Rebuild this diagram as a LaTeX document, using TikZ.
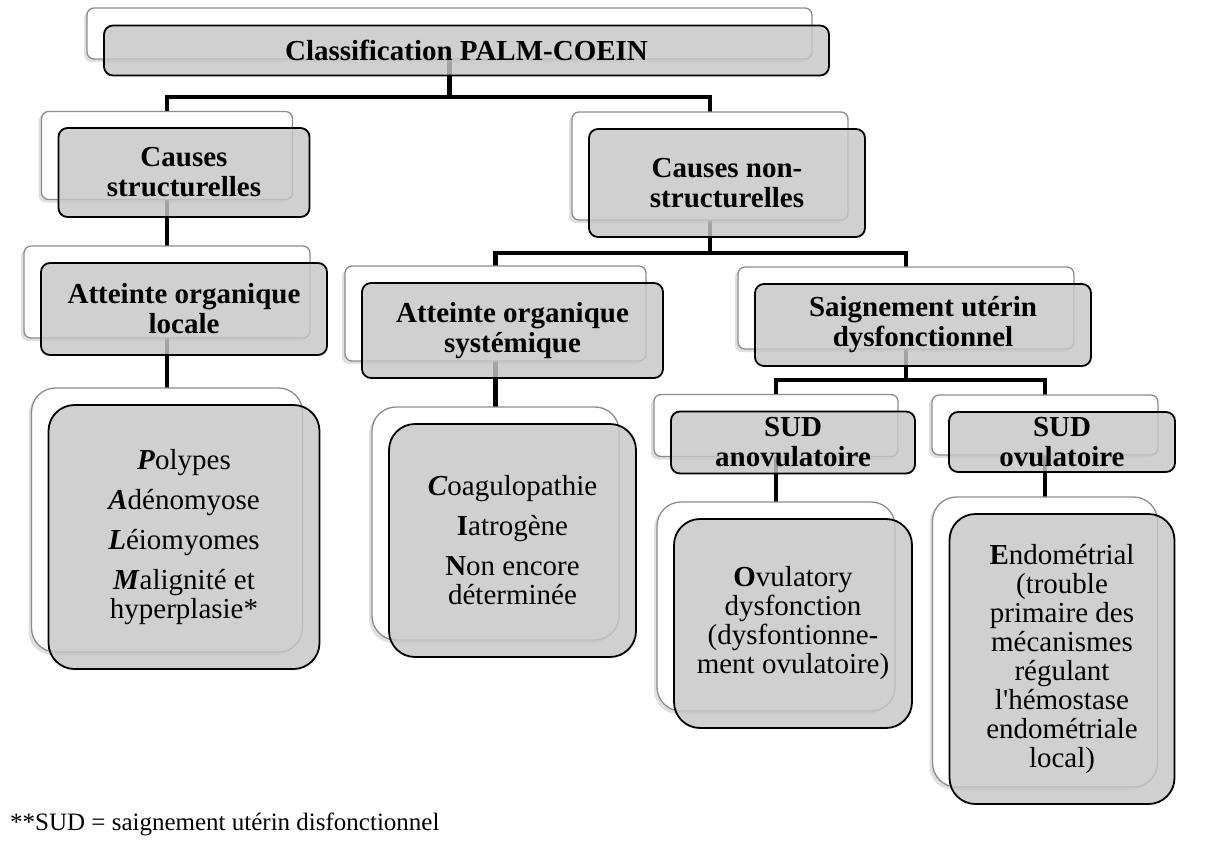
\documentclass[tikz,border=0pt]{standalone}
\usepackage{fontspec}
\setmainfont{Liberation Serif}[Ligatures=TeXOff]
\usetikzlibrary{shadows,positioning}

\pgfdeclarelayer{background}
\pgfsetlayers{background,main}

\definecolor{boxgray}{RGB}{198,198,198}
\definecolor{rimgray}{RGB}{140,140,140}

\newcommand{\hdfont}{\fontsize{29}{30}\selectfont\bfseries}
\newcommand{\lffont}{\fontsize{29}{29}\selectfont}

\tikzset{
	backbox/.style={draw=rimgray, line width=1.3, fill=white, rounded corners=7,
		inner sep=0, drop shadow={shadow xshift=-3pt, shadow yshift=-3pt, opacity=0.25}},
	frontbox/.style={draw=black, line width=1.8, fill=boxgray, fill opacity=0.82,
		text opacity=1, rounded corners=9, inner sep=0, align=center, font=\hdfont},
	leafback/.style={backbox, rounded corners=24},
	leaffront/.style={frontbox, rounded corners=26, font=\lffont},
	conn/.style={line width=4.5, draw=black}
}

\begin{document}
\begin{tikzpicture}[x=1pt,y=-1pt]
		\useasboundingbox (0,0) rectangle (1210,862);
		
		% level 0
		\node[backbox, minimum width=725, minimum height=51] (top-b) at (449.5,33.5) {};
		\node[frontbox, minimum width=725, minimum height=50] (top) at ([shift={(17,17)}]top-b.center) {Classification PALM-COEIN};
		
		% level 1
		\node[backbox, minimum width=251, minimum height=88] (causeS-b) at (167,155.5) {};
		\node[frontbox, minimum width=251, minimum height=89] (causeS) at ([shift={(17,17)}]causeS-b.center) {Causes\\structurelles};
		\node[backbox, minimum width=276, minimum height=108] (causeN-b) at (710,166) {};
		\node[frontbox, minimum width=276, minimum height=108] (causeN) at ([shift={(17,17)}]causeN-b.center) {Causes non-\\structurelles};
		
		% level 2
		\node[backbox, minimum width=286, minimum height=92] (locale-b) at (167,292) {};
		\node[frontbox, minimum width=286, minimum height=92] (locale) at ([shift={(17,17)}]locale-b.center) {Atteinte organique\\locale};
		\node[backbox, minimum width=301, minimum height=95] (syst-b) at (495.5,313.5) {};
		\node[frontbox, minimum width=301, minimum height=95] (syst) at ([shift={(17,17)}]syst-b.center) {Atteinte organique\\systémique};
		\node[backbox, minimum width=336, minimum height=82] (saign-b) at (906,308) {};
		\node[frontbox, minimum width=336, minimum height=82] (saign) at ([shift={(17,17)}]saign-b.center) {Saignement utérin\\dysfonctionnel};
		
		% level 3
		\node[backbox, minimum width=244, minimum height=62] (sudA-b) at (776,425.5) {};
		\node[frontbox, minimum width=244, minimum height=62] (sudA) at ([shift={(17,17)}]sudA-b.center) {SUD\\anovulatoire};
		\node[backbox, minimum width=226, minimum height=60] (sudO-b) at (1045,425) {};
		\node[frontbox, minimum width=226, minimum height=60] (sudO) at ([shift={(17,17)}]sudO-b.center) {SUD\\ovulatoire};
		
		% leaves
		\node[leafback, minimum width=271, minimum height=264] (palm-b) at (167,520) {};
		\node[leaffront, minimum width=271, minimum height=264] (palm) at ([shift={(17,17)}]palm-b.center)
		{\textbf{\textit{P}}olypes\\[11pt] \textbf{\textit{A}}dénomyose\\[11pt] \textbf{\textit{L}}éiomyomes\\[11pt] \textbf{\textit{M}}alignité et\\hyperplasie*};
		\node[leafback, minimum width=247, minimum height=233] (cin-b) at (495.5,523.5) {};
		\node[leaffront, minimum width=247, minimum height=233] (cin) at ([shift={(17,17)}]cin-b.center)
		{\textbf{\textit{C}}oagulopathie\\[11pt] \textbf{I}atrogène\\[11pt] \textbf{N}on encore\\déterminée};
		\node[leafback, minimum width=238, minimum height=209] (ovu-b) at (776,606.5) {};
		\node[leaffront, minimum width=238, minimum height=209] (ovu) at ([shift={(17,17)}]ovu-b.center)
		{\textbf{O}vulatory\\dysfonction\\(dysfontionne-\\ment ovulatoire)};
		\node[leafback, minimum width=225, minimum height=290] (endo-b) at (1045,642) {};
		\node[leaffront, minimum width=225, minimum height=290] (endo) at ([shift={(17,17)}]endo-b.center)
		{\textbf{E}ndométrial\\(trouble\\primaire des\\mécanismes\\régulant\\l'hémostase\\endométriale\\local)};
		
		% footnote
		\node[anchor=base west, inner sep=0, font=\fontsize{25}{25}\selectfont] (note) at (10,830) {**SUD = saignement utérin disfonctionnel};
		
		% connectors, behind the boxes
		\coordinate (bus1) at (0,97);
		\coordinate (bus2) at (0,253);
		\coordinate (bus3) at (0,380);
		\begin{pgfonlayer}{background}
			\draw[conn] (top-b.center) -- (top-b.center |- bus1);
			\draw[conn] (causeS-b.center) |- (causeN-b.center |- bus1) -- (causeN-b.center);
			\draw[conn] (causeS-b.center) -- (locale-b.center) -- (palm-b.center);
			\draw[conn] (causeN-b.center) -- (causeN-b.center |- bus2);
			\draw[conn] (syst-b.center) |- (saign-b.center |- bus2) -- (saign-b.center);
			\draw[conn] (syst-b.center) -- (cin-b.center);
			\draw[conn] (saign-b.center) -- (saign-b.center |- bus3);
			\draw[conn] (sudA-b.center) |- (sudO-b.center |- bus3) -- (sudO-b.center);
			\draw[conn] (sudA-b.center) -- (ovu-b.center);
			\draw[conn] (sudO-b.center) -- (endo-b.center);
		\end{pgfonlayer}
\end{tikzpicture}
\end{document}
